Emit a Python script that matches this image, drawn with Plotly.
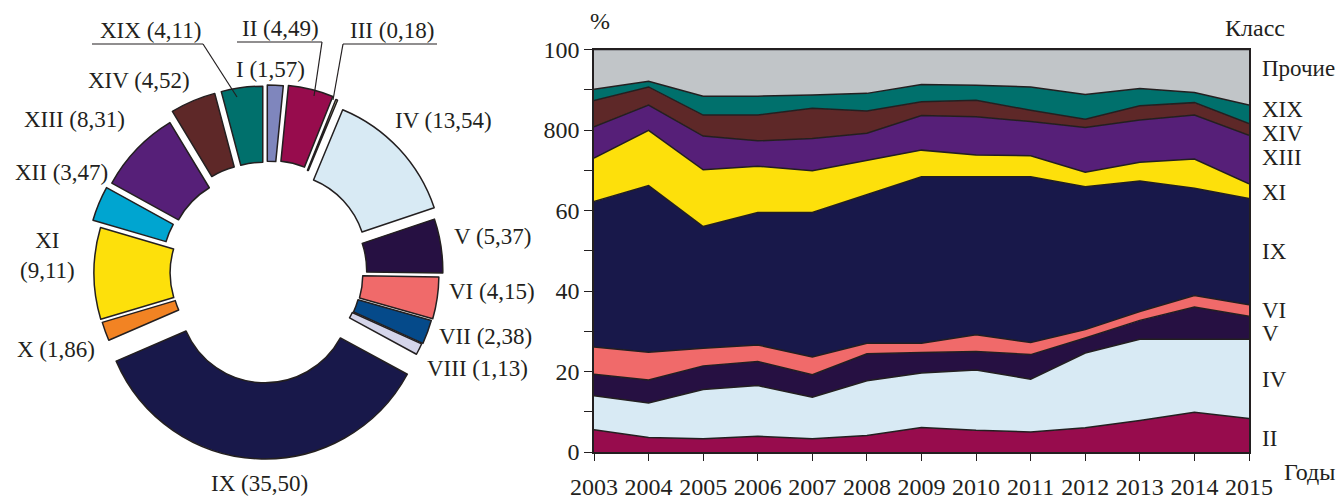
import plotly.graph_objects as go

W, H = 1336, 500
FONT = "Liberation Serif"
INK = "#231f20"

# ---- donut: share of each class, %
donut_classes = ["I", "II", "III", "IV", "V", "VI", "VII", "VIII", "IX",
                 "X", "XI", "XII", "XIII", "XIV", "XIX"]
donut_values = [1.57, 4.49, 0.18, 13.54, 5.37, 4.15, 2.38, 1.13, 35.50,
                1.86, 9.11, 3.47, 8.31, 4.52, 4.11]
donut_colors = ["#7f86bd", "#970c4d", "#f6eeb0", "#d8eaf4", "#261042",
                "#f06a6a", "#054a8a", "#d5d5ea", "#18184a", "#f28323",
                "#fde00b", "#00a5d0", "#561f78", "#5e2828", "#00706c"]
# how far each wedge is pushed out, px at an outer radius of 162 px
donut_pull_px = [26, 27, 25, 20, 15, 11, 10, 9, 24, 9, 10, 19, 17, 25, 25]

# ---- stacked area: share by year, %
years = [2003, 2004, 2005, 2006, 2007, 2008, 2009, 2010, 2011, 2012, 2013, 2014, 2015]
cls_II = [5.5, 3.6, 3.3, 3.9, 3.3, 4.1, 6.1, 5.4, 5.0, 6.0, 7.8, 9.9, 8.3]
cls_IV = [8.5, 8.6, 12.2, 12.6, 10.3, 13.6, 13.5, 15.0, 13.1, 18.6, 20.2, 18.1, 19.7]
cls_V = [5.3, 5.7, 5.9, 6.0, 5.6, 6.7, 5.1, 4.6, 6.1, 3.7, 4.7, 8.0, 5.7]
cls_VI = [6.8, 6.9, 4.4, 4.1, 4.4, 2.6, 2.3, 4.1, 3.0, 2.1, 2.2, 2.9, 2.9]
cls_IX = [36.1, 41.4, 30.2, 32.9, 35.9, 36.9, 41.4, 39.3, 41.2, 35.5, 32.4, 26.6, 26.4]
cls_XI = [10.8, 13.7, 14.1, 11.5, 10.4, 8.6, 6.6, 5.4, 5.2, 3.6, 4.7, 7.3, 3.6]
cls_XIII = [7.8, 6.3, 8.4, 6.3, 8.0, 6.7, 8.6, 9.5, 8.5, 11.1, 10.5, 10.9, 12.1]
cls_XIV = [6.5, 4.5, 5.2, 6.4, 7.5, 5.5, 3.4, 4.1, 2.8, 2.1, 3.5, 3.1, 2.9]
cls_XIX = [2.8, 1.4, 4.7, 4.7, 3.3, 4.4, 4.3, 3.7, 5.8, 6.1, 4.3, 2.5, 4.6]
cls_other = [9.9, 7.9, 11.6, 11.6, 11.3, 10.9, 8.7, 8.9, 9.3, 11.2, 9.7, 10.7, 13.8]

area_series = [
    ("II", cls_II, "#970c4d"),
    ("IV", cls_IV, "#d8eaf4"),
    ("V", cls_V, "#261042"),
    ("VI", cls_VI, "#f06a6a"),
    ("IX", cls_IX, "#18184a"),
    ("XI", cls_XI, "#fde00b"),
    ("XIII", cls_XIII, "#561f78"),
    ("XIV", cls_XIV, "#5e2828"),
    ("XIX", cls_XIX, "#00706c"),
    ("Прочие", cls_other, "#c1c5c8"),
]

y_ticks = [0, 10, 20, 30, 40, 50, 60, 70, 80, 90, 100]
y_ticktext = ["0", "", "20", "", "40", "", "60", "", "800", "", "100"]


def px(x):
    return x / W


def py(y):
    return 1 - y / H


fig = go.Figure()

# donut
r_out = 162
pulls = [p / r_out for p in donut_pull_px]
cx, cy = 266, 273
half = r_out * (1 + max(pulls))
fig.add_trace(go.Pie(
    values=donut_values, labels=donut_classes, sort=False,
    direction="clockwise", rotation=0, hole=0.53, pull=pulls,
    marker=dict(colors=donut_colors, line=dict(color=INK, width=1.5)),
    textinfo="none", hoverinfo="label+value", showlegend=False,
    domain=dict(x=[px(cx - half), px(cx + half)], y=[py(cy + half), py(cy - half)]),
))

# stacked areas
for name, vals, color in area_series:
    fig.add_trace(go.Scatter(
        x=years, y=vals, name=name, stackgroup="one", mode="lines",
        line=dict(color=INK, width=1.5), fillcolor=color, showlegend=False,
    ))

ann = []


def label(text, x, y, anchor="center", size=23):
    ann.append(dict(text=text, x=px(x), y=py(y), xref="paper", yref="paper",
                    xanchor=anchor, yanchor="middle", showarrow=False,
                    font=dict(family=FONT, size=size, color=INK)))


# donut labels
label("XIX (4,11)", 150, 30)
label("II (4,49)", 280, 28)
label("III (0,18)", 392, 30)
label("I (1,57)", 270, 69)
label("XIV (4,52)", 192, 80, "right")
label("XIII (8,31)", 127, 119, "right")
label("XII (3,47)", 110, 172, "right")
label("XI<br>(9,11)", 47, 255)
label("X (1,86)", 97, 349, "right")
label("IX (35,50)", 259, 483)
label("IV (13,54)", 393, 120, "left")
label("V (5,37)", 452, 236, "left")
label("VI (4,15)", 447, 291, "left")
label("VII (2,38)", 437, 336, "left")
label("VIII (1,13)", 425, 368, "left")

# area chart side labels
label("%", 600, 21, size=24)
label("Класс", 1255, 28, size=24)
label("Годы", 1282, 472, "left", size=24)
for text, y in [("Прочие", 68), ("XIX", 110), ("XIV", 133), ("XIII", 157),
                ("XI", 192), ("IX", 251), ("VI", 310), ("V", 333),
                ("IV", 379), ("II", 438)]:
    label(text, 1260, y, "left", size=23)

# leader lines for the top labels
shapes = []
for pts in [[(92, 44), (203, 44), (237, 97)],
            [(237, 42), (322, 42), (314, 96)],
            [(437, 44), (343, 44), (333, 100)]]:
    for (x0, y0), (x1, y1) in zip(pts[:-1], pts[1:]):
        shapes.append(dict(type="line", xref="paper", yref="paper",
                           x0=px(x0), y0=py(y0), x1=px(x1), y1=py(y1),
                           line=dict(color=INK, width=1.2)))

fig.update_layout(
    width=W, height=H,
    margin=dict(l=0, r=0, t=0, b=0),
    paper_bgcolor="white", plot_bgcolor="white",
    font=dict(family=FONT, size=24, color=INK),
    annotations=ann, shapes=shapes,
    xaxis=dict(domain=[px(594), px(1249)], range=[2003, 2015],
               tickvals=years, ticktext=[str(y) for y in years],
               ticks="outside", ticklen=7, tickwidth=1.2, tickcolor=INK,
               showline=True, linecolor=INK, linewidth=1.5, mirror=True,
               showgrid=False, zeroline=False, ticklabelstandoff=5,
               automargin=False,
               tickfont=dict(family=FONT, size=24, color=INK)),
    yaxis=dict(domain=[py(452), py(49.5)], range=[0, 100],
               tickvals=y_ticks, ticktext=y_ticktext,
               ticks="outside", ticklen=8, tickwidth=1.2, tickcolor=INK,
               showline=True, linecolor=INK, linewidth=1.5, mirror=True,
               showgrid=False, zeroline=False, automargin=False,
               tickfont=dict(family=FONT, size=24, color=INK)),
)

# drop the default 8px body margin so the figure sits at the page origin
fig.write_html("out.html", config={"displayModeBar": False},
               post_script="document.body.style.margin='0';")
